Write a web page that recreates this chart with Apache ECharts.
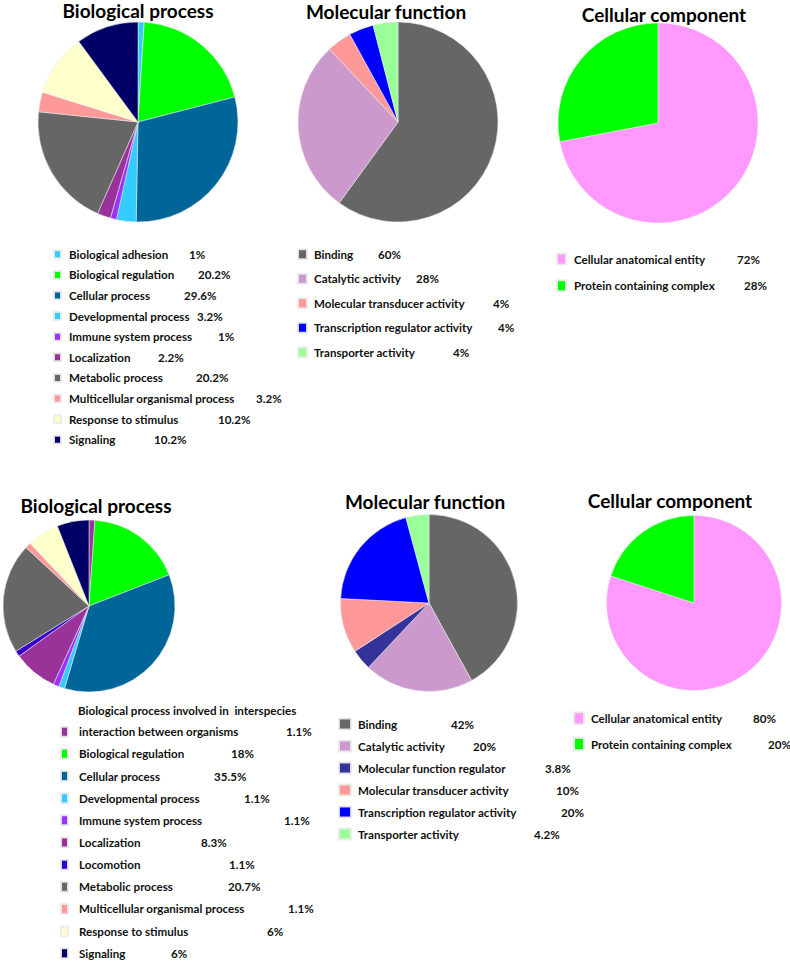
<!DOCTYPE html>
<html><head><meta charset="utf-8">
<script src="https://cdn.jsdelivr.net/npm/echarts@6/dist/echarts.min.js"></script>
<style>html,body{margin:0;padding:0;background:#fff}#c{width:790px;height:963px}</style>
</head><body><div id="c"></div>
<script>
// ---------- DATA ----------
const titles = ['Biological process', 'Molecular function', 'Cellular component',
                'Biological process', 'Molecular function', 'Cellular component'];

const bp1Names = ['Biological adhesion', 'Biological regulation', 'Cellular process', 'Developmental process',
  'Immune system process', 'Localization', 'Metabolic process', 'Multicellular organismal process',
  'Response to stimulus', 'Signaling'];
const bp1Values = [1, 20.2, 29.6, 3.2, 1, 2.2, 20.2, 3.2, 10.2, 10.2];

const mf1Names = ['Binding', 'Catalytic activity', 'Molecular transducer activity',
  'Transcription regulator activity', 'Transporter activity'];
const mf1Values = [60, 28, 4, 4, 4];

const cc1Names = ['Cellular anatomical entity', 'Protein containing complex'];
const cc1Values = [72, 28];

const bp2Names = ['Biological process involved in interspecies interaction between organisms',
  'Biological regulation', 'Cellular process', 'Developmental process', 'Immune system process',
  'Localization', 'Locomotion', 'Metabolic process', 'Multicellular organismal process',
  'Response to stimulus', 'Signaling'];
const bp2Values = [1.1, 18, 35.5, 1.1, 1.1, 8.3, 1.1, 20.7, 1.1, 6, 6];

const mf2Names = ['Binding', 'Catalytic activity', 'Molecular function regulator',
  'Molecular transducer activity', 'Transcription regulator activity', 'Transporter activity'];
const mf2Values = [42, 20, 3.8, 10, 20, 4.2];

const cc2Names = ['Cellular anatomical entity', 'Protein containing complex'];
const cc2Values = [80, 20];

// ---------- STYLE / LAYOUT ----------
const colorMap = {
  'Biological adhesion': '#33CCFF',
  'Biological regulation': '#00FF00',
  'Cellular process': '#006699',
  'Developmental process': '#33CCFF',
  'Immune system process': '#9933FF',
  'Localization': '#993399',
  'Metabolic process': '#666666',
  'Multicellular organismal process': '#FF9999',
  'Response to stimulus': '#FFFFCC',
  'Signaling': '#000066',
  'Locomotion': '#3300CC',
  'Biological process involved in interspecies interaction between organisms': '#993399',
  'Binding': '#666666',
  'Catalytic activity': '#CC99CC',
  'Molecular function regulator': '#333399',
  'Molecular transducer activity': '#FF9999',
  'Transcription regulator activity': '#0000FF',
  'Transporter activity': '#99FF99',
  'Cellular anatomical entity': '#FF99FF',
  'Protein containing complex': '#00FF00'
};

const groups = [
  {names: bp1Names, values: bp1Values, center: [138, 122], r: 100, title: [138, 10],
   lg: {left: 53, top: 247.3, iw: 7, ih: 8, gap: 6.6, pad: 3, pct: [188, 197, 183, 196, 217, 157, 195, 255, 217, 153]}},
  {names: mf1Names, values: mf1Values, center: [398, 122], r: 100, title: [386, 11],
   lg: {left: 297, top: 247.3, iw: 9, ih: 10, gap: 10.5, pad: 2, pct: [377, 415, 492, 497, 452]}},
  {names: cc1Names, values: cc1Values, center: [658, 123], r: 100, title: [664, 14],
   lg: {left: 556, top: 252, iw: 9, ih: 11, gap: 12.7, pad: 3, pct: [736, 743]}},
  {names: bp2Names, values: bp2Values, center: [89, 606], r: 86, title: [96, 505],
   lg: {left: 60, top: 724.7, iw: 7, ih: 10, gap: 8.16, pad: 6, pct: [285, 230, 213, 243, 283, 200, 228, 227, 287, 266, 170]}},
  {names: mf2Names, values: mf2Values, center: [429, 603], r: 88.5, title: [425, 501],
   lg: {left: 338, top: 717, iw: 12, ih: 11, gap: 8, pad: 2, pct: [450, 472, 544, 555, 560, 533]}},
  {names: cc2Names, values: cc2Values, center: [694, 603], r: 87.5, title: [670, 500],
   lg: {left: 573, top: 711.3, iw: 10, ih: 12, gap: 11.7, pad: 2, pct: [752, 767]}}
];

const FONT = 'Lato, "Open Sans", sans-serif';
const FS = 11.6;
const LH = 14;
const headerLine = 'Biological process involved in  interspecies';
const secondLine = 'interaction between organisms';

const series = groups.map(g => ({
  type: 'pie',
  center: g.center,
  radius: g.r,
  startAngle: 90,
  clockwise: true,
  label: {show: false},
  labelLine: {show: false},
  emphasis: {scale: false},
  silent: true,
  itemStyle: {borderColor: 'rgba(235,235,235,0.9)', borderWidth: 0.6},
  data: g.names.map((n, i) => ({name: n, value: g.values[i], itemStyle: {color: colorMap[n]}}))
}));

const legends = groups.map((g, gi) => {
  const L = g.lg;
  const textStart = L.left + L.iw + 5 + L.pad;
  const base = {fontFamily: FONT, fontWeight: 'bold', fontSize: FS, color: '#111', lineHeight: LH};
  const rich = {s: Object.assign({}, base, {width: L.pad}), p: Object.assign({}, base)};
  g.names.forEach((n, i) => {
    rich['n' + i] = Object.assign({}, base, {width: Math.max(10, L.pct[i] - textStart)});
  });
  return {
    orient: 'vertical',
    left: L.left, top: L.top,
    padding: 0,
    height: 400,
    itemWidth: L.iw, itemHeight: L.ih, itemGap: L.gap,
    icon: 'rect',
    selectedMode: false,
    data: g.names.map(n => ({name: n, icon: 'rect'})),
    formatter: name => {
      const i = g.names.indexOf(name);
      const shown = name.startsWith('Biological process involved') ? secondLine : name;
      return '{s| }{n' + i + '|' + shown + '}{p|' + g.values[i] + '%}';
    },
    textStyle: Object.assign({}, base, {rich})
  };
});

const graphics = groups.map((g, gi) => ({
  type: 'text', x: g.title[0], y: g.title[1],
  style: {text: titles[gi], textAlign: 'center', textVerticalAlign: 'middle',
    font: 'bold 19px ' + FONT, fill: '#000'}
}));
graphics.push({type: 'text', x: 78, y: 710,
  style: {text: headerLine, textAlign: 'left', textVerticalAlign: 'middle', font: 'bold ' + FS + 'px ' + FONT, fill: '#111'}});

const chart = echarts.init(document.getElementById('c'), null, {renderer: 'svg'});
chart.setOption({
  animation: false,
  backgroundColor: '#fff',
  legend: legends,
  series,
  graphic: graphics
});
</script></body></html>
